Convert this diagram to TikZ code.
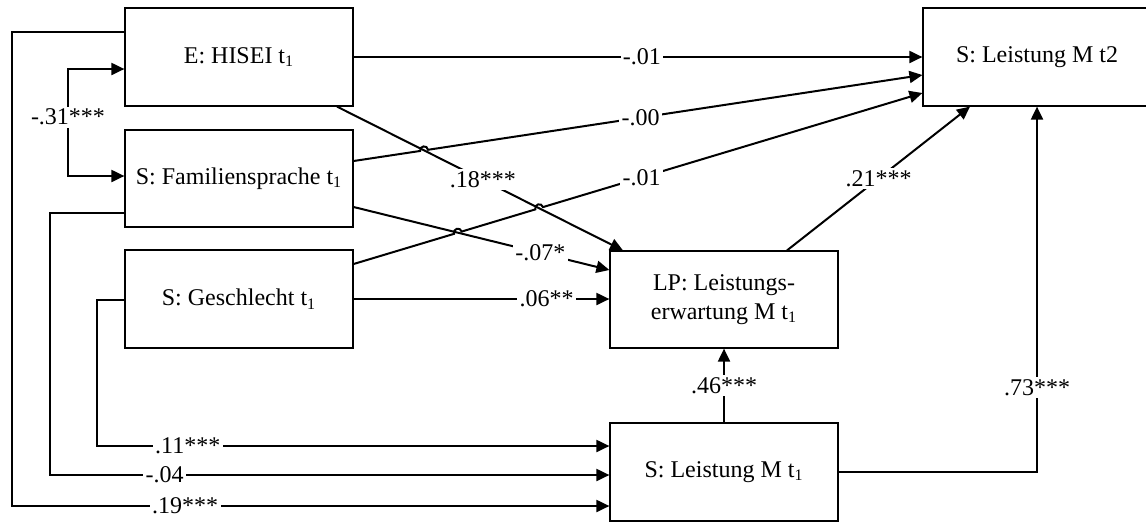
\documentclass[tikz,border=0pt]{standalone}
\usepackage{fontspec}
\setmainfont{Liberation Serif}
\usetikzlibrary{arrows.meta,calc}
\begin{document}
\begin{tikzpicture}[x=0.5pt,y=0.5pt,
  box/.style={draw, line width=0.6pt, minimum width=114pt, minimum height=49pt, inner sep=0pt, align=center, font=\fontsize{12}{14.5}\selectfont},
  conn/.style={line width=1pt, -{Triangle[length=6.5pt,width=6pt]}},
  corr/.style={line width=1pt, {Triangle[length=6.5pt,width=6pt]}-{Triangle[length=6.5pt,width=6pt]}},
  hop/.style={bend left=90, looseness=1.7},
  lab/.style={fill=white, inner sep=1.2pt, font=\fontsize{12}{13}\selectfont}]
\useasboundingbox (0,0) rectangle (1146,-521);

% boxes
\node[box] (hisei) at (239,-57) {E: HISEI t\textsubscript{1}};
\node[box, minimum height=48.5pt] (fam) at (239,-178.5) {S: Familiensprache t\textsubscript{1}};
\node[box] (ges) at (239,-299) {S: Geschlecht t\textsubscript{1}};
\node[box, minimum height=48.5pt] (lp) at (724,-299.5) {LP: Leistungs-\\erwartung M t\textsubscript{1}};
\node[box] (lm1) at (724,-472) {S: Leistung M t\textsubscript{1}};
\node[box] (t2) at (1037,-57) {S: Leistung M t2};

% end points on the boxes
\coordinate (a2s) at ($(fam.east)+(0,17.5)$);
\coordinate (a2e) at ($(t2.west)+(0,-18)$);
\coordinate (a3s) at ($(ges.east)+(0,35)$);
\coordinate (a3e) at ($(t2.west)+(0,-36)$);
\coordinate (a4s) at ($(hisei.south)+(98,0)$);
\coordinate (a4e) at ($(lp.north)+(-101,0)$);
\coordinate (a5s) at ($(fam.east)+(0,-28.5)$);
\coordinate (a5e) at ($(lp.west)+(0,29.5)$);
\coordinate (a7s) at ($(lp.north)+(63,0)$);
\coordinate (a7e) at ($(t2.south)+(-67,0)$);

% crossings
\coordinate (x1) at (intersection of a2s--a2e and a4s--a4e);
\coordinate (x2) at (intersection of a3s--a3e and a5s--a5e);
\coordinate (x3) at (intersection of a3s--a3e and a4s--a4e);

% paths
\draw[conn] (hisei.east) -- node[lab,pos=0.507]{-.01} (t2.west);
\draw[conn] (a4s) -- node[lab,pos=0.51]{.18***} (a4e);
\draw[conn] (a5s) -- node[lab,pos=0.73]{-.07*} (a5e);
\draw[conn] (ges.east) -- node[lab,pos=0.755]{.06**} (ges.east -| lp.west);
\draw[conn] (a2s) -- ($(x1)!2pt!(a2s)$) to[hop] ($(x1)!2pt!(a2e)$)
   -- node[lab,pos=0.43]{-.00} (a2e);
\draw[conn] (a3s) -- ($(x2)!2pt!(a3s)$) to[hop] ($(x2)!2pt!(a3e)$)
   -- ($(x3)!2pt!(a3s)$) to[hop] ($(x3)!2pt!(a3e)$)
   -- node[lab,pos=0.26]{-.01} (a3e);
\draw[conn] (a7s) -- node[lab,pos=0.5]{.21***} (a7e);
\draw[conn] (lm1.north) -- node[lab,pos=0.5]{.46***} (lp.south);
\draw[conn] (lm1.east) -| node[lab,pos=0.615]{.73***} (t2.south);

% correlation
\draw[corr] ($(hisei.west)+(0,-12)$) -- (68,-69)
   -- node[lab,pos=0.45]{-.31***} (68,-176) -- ($(fam.west)+(0,2.5)$);

% long paths to S: Leistung M t1
\draw[conn] ($(hisei.west)+(0,25)$) -- (12,-32) -- (12,-506)
   -- node[lab,pos=0.29]{.19***} ($(lm1.west)+(0,-34)$);
\draw[conn] ($(fam.west)+(0,-34.5)$) -- (50,-213) -- (50,-475)
   -- node[lab,pos=0.205]{-.04} ($(lm1.west)+(0,-3)$);
\draw[conn] ($(ges.west)+(0,-1)$) -- (97,-300) -- (97,-446)
   -- node[lab,pos=0.177]{.11***} ($(lm1.west)+(0,26)$);
\end{tikzpicture}
\end{document}
